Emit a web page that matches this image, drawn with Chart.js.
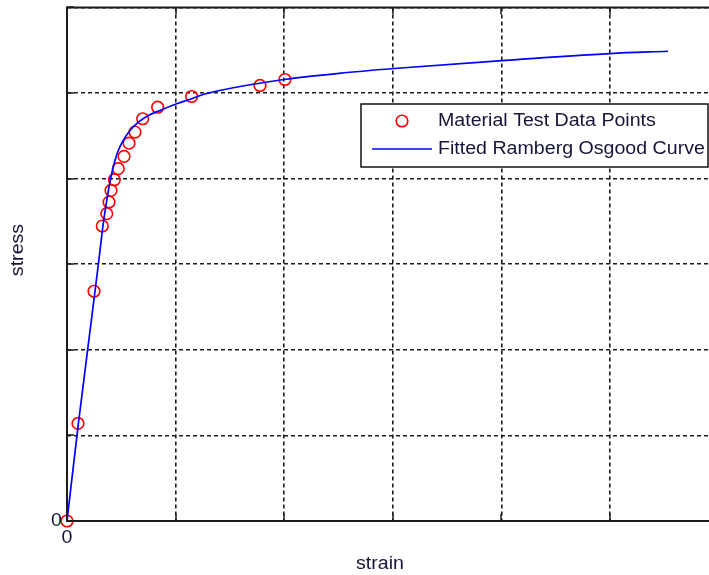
<!DOCTYPE html>
<html>
<head>
<meta charset="utf-8">
<script src="https://cdn.jsdelivr.net/npm/chart.js@4.4.1/dist/chart.umd.min.js"></script>
<style>
    html, body { margin: 0; padding: 0; background: #fff; overflow: hidden; }
    canvas { display: block; }
</style>
</head>
<body>
<canvas id="roChart" width="726" height="575"></canvas>
<script>
// measured test points (strain, stress) in plot units
const testStrain = [0, 0.101, 0.249, 0.325, 0.366, 0.387, 0.405, 0.436, 0.472, 0.525, 0.571, 0.626, 0.697, 0.835, 1.148, 1.777, 2.007];
const testStress = [0, 1.140, 2.684, 3.446, 3.590, 3.726, 3.862, 3.987, 4.116, 4.259, 4.414, 4.543, 4.699, 4.834, 4.959, 5.088, 5.158];

// fitted Ramberg-Osgood curve
const fitStrain = [0, 0.101, 0.258, 0.304, 0.334, 0.356, 0.387, 0.412, 0.442, 0.472, 0.518, 0.580, 0.657, 0.749, 0.872, 1.010, 1.148, 1.252, 1.593, 1.998, 2.505, 3.011, 4.006, 5.000, 5.534];
const fitStress = [0, 1.100, 2.684, 3.162, 3.477, 3.667, 3.901, 4.061, 4.212, 4.329, 4.446, 4.562, 4.659, 4.738, 4.804, 4.874, 4.932, 4.982, 5.076, 5.158, 5.230, 5.286, 5.379, 5.461, 5.488];

const xTicks = [0, 1, 2, 3, 4, 5, 6];
const yTicks = [0, 1, 2, 3, 4, 5, 6];
const tickLabels = ['0'];

const FONT = '"Liberation Sans", Arial, sans-serif';
const INK = '#1c1c1c';

const pairs = (xs, ys) => xs.map((x, i) => ({ x: x, y: ys[i] }));

// text drawn slightly wide, like the old figure export
const wideText = (ctx, txt, x, y, align, rot) => {
    ctx.save();
    ctx.translate(x, y);
    if (rot) ctx.rotate(rot);
    ctx.scale(1.12, 1);
    ctx.textAlign = align;
    ctx.textBaseline = 'middle';
    ctx.fillText(txt, 0, 0);
    ctx.restore();
}

const frame = {
    id: 'frame',
    afterDatasetsDraw(chart) {
        const ctx = chart.ctx;
        const a = chart.chartArea;
        const xs = chart.scales.x, ys = chart.scales.y;
        ctx.save();
        ctx.strokeStyle = INK;
        ctx.lineWidth = 2;
        ctx.beginPath();
        ctx.moveTo(a.right, a.top);
        ctx.lineTo(a.left, a.top);
        ctx.lineTo(a.left, a.bottom);
        ctx.lineTo(a.right, a.bottom);
        ctx.stroke();

        // inward tick marks
        ctx.lineWidth = 1.5;
        ctx.beginPath();
        xTicks.forEach(v => {
            const px = Math.round(xs.getPixelForValue(v));
            ctx.moveTo(px, a.bottom); ctx.lineTo(px, a.bottom - 7);
            ctx.moveTo(px, a.top); ctx.lineTo(px, a.top + 7);
        });
        yTicks.forEach(v => {
            const py = Math.round(ys.getPixelForValue(v));
            ctx.moveTo(a.left, py); ctx.lineTo(a.left + 7, py);
        });
        ctx.stroke();

        // tick labels and axis titles
        ctx.fillStyle = '#15153a';
        ctx.font = '17.5px ' + FONT;
        wideText(ctx, tickLabels[0], a.left - 5, ys.getPixelForValue(0), 'right');
        wideText(ctx, tickLabels[0], xs.getPixelForValue(0), a.bottom + 17, 'center');
        wideText(ctx, 'strain', 380, 564, 'center');
        wideText(ctx, 'stress', 18, 250, 'center', -Math.PI / 2);

        // legend box
        const lx = 361, ly = 104, lw = 347, lh = 63;
        ctx.fillStyle = '#fff';
        ctx.fillRect(lx, ly, lw, lh);
        ctx.strokeStyle = '#111';
        ctx.lineWidth = 1.5;
        ctx.strokeRect(lx, ly, lw, lh);

        ctx.strokeStyle = '#ff0000';
        ctx.lineWidth = 1.6;
        ctx.beginPath();
        ctx.arc(402, 121, 5.8, 0, Math.PI * 2);
        ctx.stroke();

        ctx.strokeStyle = '#0000ff';
        ctx.beginPath();
        ctx.moveTo(372, 149);
        ctx.lineTo(432, 149);
        ctx.stroke();

        ctx.fillStyle = '#15153a';
        wideText(ctx, chart.data.datasets[1].label, 438, 121, 'left');
        wideText(ctx, chart.data.datasets[0].label, 438, 149, 'left');
        ctx.restore();
    }
};

new Chart('roChart', {
    type: 'scatter',
    data: {
        datasets: [{
            label: 'Fitted Ramberg Osgood Curve',
            type: 'line',
            data: pairs(fitStrain, fitStress),
            borderColor: '#0000ff',
            borderWidth: 1.7,
            pointRadius: 0,
            fill: false,
            cubicInterpolationMode: 'monotone',
            clip: false,
            order: 0
        }, {
            label: 'Material Test Data Points',
            data: pairs(testStrain, testStress),
            pointStyle: 'circle',
            pointRadius: 5.8,
            pointBorderWidth: 1.6,
            pointBorderColor: '#ff0000',
            pointBackgroundColor: 'rgba(0,0,0,0)',
            clip: false,
            order: 1
        }]
    },
    options: {
        responsive: false,
        animation: false,
        layout: { padding: { top: 7, right: 1, left: 0, bottom: 0 } },
        plugins: { legend: { display: false }, tooltip: { enabled: false } },
        scales: {
            x: {
                type: 'linear', min: 0, max: 6,
                afterFit: s => { s.height = 54; },
                afterBuildTicks: s => { s.ticks = xTicks.map(v => ({ value: v })); },
                ticks: { display: false },
                border: { display: false, dash: [4, 3] },
                grid: { color: INK, lineWidth: 1.6, drawTicks: false }
            },
            y: {
                type: 'linear', min: 0, max: 6,
                afterFit: s => { s.width = 67; },
                afterBuildTicks: s => { s.ticks = yTicks.map(v => ({ value: v })); },
                ticks: { display: false },
                border: { display: false, dash: [4, 3] },
                grid: { color: INK, lineWidth: 1.6, drawTicks: false }
            }
        }
    },
    plugins: [frame]
});
</script>
</body>
</html>
